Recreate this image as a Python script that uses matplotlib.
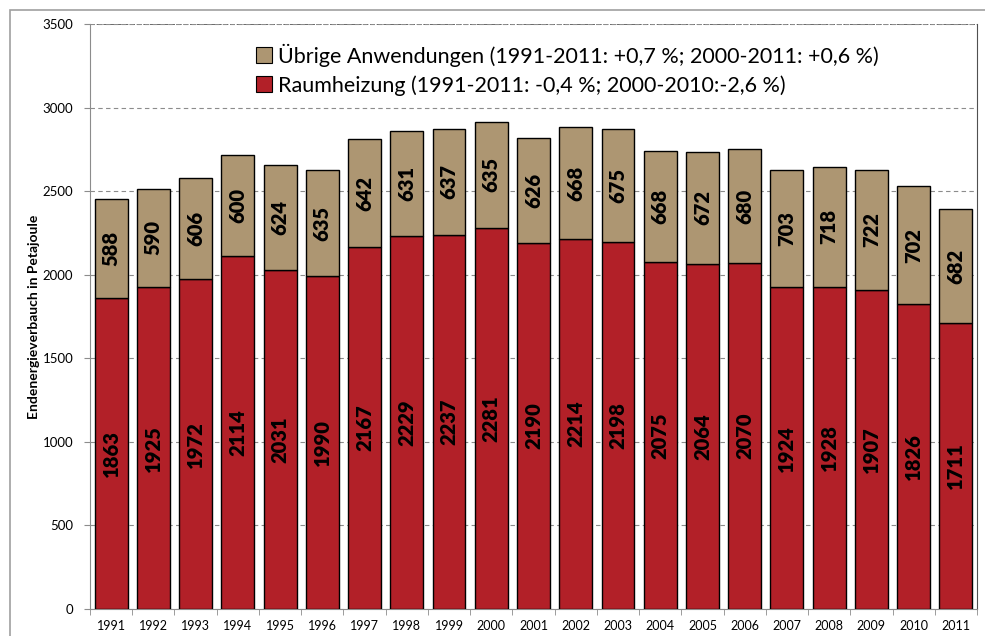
import numpy as np
import matplotlib
matplotlib.use('Agg')
import matplotlib.pyplot as plt
from matplotlib.patches import Rectangle, Patch

plt.rcParams['font.family'] = ['Lato', 'DejaVu Sans']

# Endenergieverbrauch in PJ
years = [str(y) for y in range(1991, 2012)]
raumheizung = [1863, 1925, 1972, 2114, 2031, 1990, 2167, 2229, 2237, 2281, 2190,
               2214, 2198, 2075, 2064, 2070, 1924, 1928, 1907, 1826, 1711]
uebrige = [588, 590, 606, 600, 624, 635, 642, 631, 637, 635, 626,
           668, 675, 668, 672, 680, 703, 718, 722, 702, 682]

red = '#B22028'
tan = '#AD9672'

fig = plt.figure(figsize=(9.85, 6.36), dpi=100)
# outer chart frame
fig.patches.append(Rectangle((10 / 985, -0.1), 1.2, 1 - 10 / 636 + 0.1,
                             transform=fig.transFigure, fill=False,
                             edgecolor='#A0A0A0', linewidth=1.2))
ax = fig.add_axes([90 / 985, 1 - 609 / 636, (977 - 90) / 985, (609 - 24) / 636])

x = np.arange(len(years))
w = 0.78
ax.bar(x, raumheizung, w, color=red, edgecolor='black', linewidth=1, zorder=3)
ax.bar(x, uebrige, w, bottom=raumheizung, color=tan, edgecolor='black',
       linewidth=1, zorder=3)

for i in range(len(years)):
    ax.text(x[i], raumheizung[i] / 2, str(raumheizung[i]), rotation=90,
            ha='center', va='center', fontsize=14.5, fontweight='heavy', zorder=4)
    ax.text(x[i], raumheizung[i] + uebrige[i] / 2, str(uebrige[i]), rotation=90,
            ha='center', va='center', fontsize=14.5, fontweight='heavy', zorder=4)

ax.set_xlim(-0.5, len(years) - 0.5)
ax.set_ylim(0, 3500)
ax.set_yticks(np.arange(0, 3501, 500))
ax.yaxis.grid(True, linestyle=(0, (4, 3)), color='#8C8C8C', linewidth=0.8, zorder=0)
ax.set_xticks(x)
ax.set_xticklabels(years, fontsize=9)
ax.set_xticks(np.arange(-0.5, len(years), 1), minor=True)
ax.tick_params(axis='x', which='major', length=0, pad=8)
ax.tick_params(axis='x', which='minor', length=4, color='#8C8C8C')
ax.tick_params(axis='y', labelsize=9.5, length=4, color='#8C8C8C', pad=8)
ax.set_ylabel('Endenergieverbauch in Petajoule', fontsize=10, fontweight='bold',
              labelpad=2)

ax.spines['left'].set_color('#8C8C8C')
ax.spines['bottom'].set_color('#8C8C8C')
ax.spines['right'].set_color('#505050')
ax.spines['top'].set_visible(False)
ax.axhline(3500, color='#505050', linestyle=(0, (3, 1)), linewidth=1.2, zorder=1)

handles = [Patch(facecolor=tan, edgecolor='black', linewidth=0.8),
           Patch(facecolor=red, edgecolor='black', linewidth=0.8)]
labels = ['Übrige Anwendungen (1991-2011: +0,7 %; 2000-2011: +0,6 %)',
          'Raumheizung (1991-2011: -0,4 %; 2000-2010:-2,6 %)']
ax.legend(handles, labels, loc='upper left', bbox_to_anchor=(0.165, 1.0),
          frameon=False, fontsize=15.5, handlelength=0.75, handleheight=0.75,
          handletextpad=0.3, labelspacing=0.4, borderpad=0.4)

fig.savefig('out.png', dpi=100)
